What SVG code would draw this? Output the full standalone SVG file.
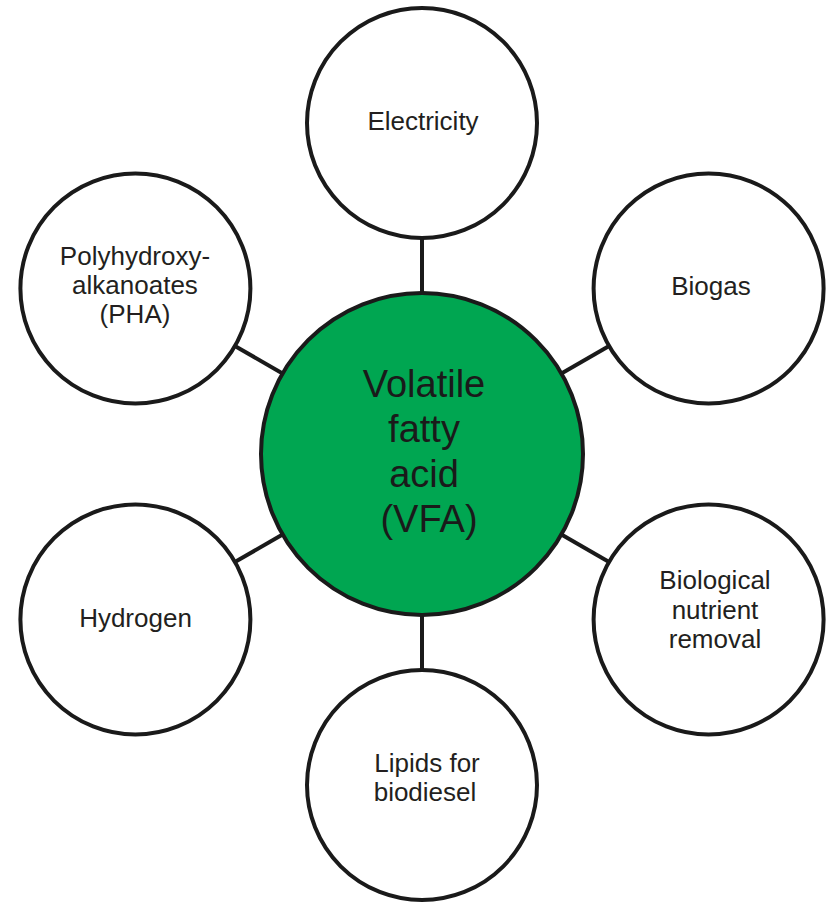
<svg xmlns="http://www.w3.org/2000/svg" width="826" height="902" viewBox="0 0 826 902">
<style>
.sat{fill:#ffffff;stroke:#1a1a1a;stroke-width:4}
.hub{fill:#00a651;stroke:#1a1a1a;stroke-width:4}
.lbl{font-family:"Liberation Sans",Arial,sans-serif;font-size:26px;fill:#231f20;text-anchor:middle}
.big{font-family:"Liberation Sans",Arial,sans-serif;font-size:38px;fill:#1a1a1a;text-anchor:middle}
.con line{stroke:#1a1a1a;stroke-width:4}
</style>
<rect width="826" height="902" fill="#ffffff"/>
<g id="connectors" class="con">
<line x1="422" y1="293" x2="422" y2="238"/>
<line x1="422" y1="615" x2="422" y2="670"/>
<line x1="561.4" y1="373.5" x2="609.1" y2="346"/>
<line x1="561.4" y1="534.5" x2="609.1" y2="562"/>
<line x1="282.6" y1="534.5" x2="234.9" y2="562"/>
<line x1="282.6" y1="373.5" x2="234.9" y2="346"/>
</g>
<g id="vfa">
<circle class="hub" cx="422" cy="454" r="161"/>
<text class="big"><tspan x="424" y="397">Volatile</tspan><tspan x="424" y="442">fatty</tspan><tspan x="424" y="487">acid</tspan><tspan x="429" y="532">(VFA)</tspan></text>
</g>
<g id="electricity">
<circle class="sat" cx="422" cy="123" r="115"/>
<text class="lbl" x="423" y="130">Electricity</text>
</g>
<g id="biogas">
<circle class="sat" cx="708.6" cy="288.5" r="115"/>
<text class="lbl" x="711" y="295">Biogas</text>
</g>
<g id="bnr">
<circle class="sat" cx="708.6" cy="619.5" r="115"/>
<text class="lbl"><tspan x="715" y="589">Biological</tspan><tspan x="715" y="619">nutrient</tspan><tspan x="715" y="648">removal</tspan></text>
</g>
<g id="lipids">
<circle class="sat" cx="422" cy="785" r="115"/>
<text class="lbl"><tspan x="427" y="772">Lipids for</tspan><tspan x="425" y="801">biodiesel</tspan></text>
</g>
<g id="hydrogen">
<circle class="sat" cx="135.4" cy="619.5" r="115"/>
<text class="lbl" x="135.5" y="627">Hydrogen</text>
</g>
<g id="pha">
<circle class="sat" cx="135.4" cy="288.5" r="115"/>
<text class="lbl"><tspan x="135" y="265">Polyhydroxy-</tspan><tspan x="135" y="294">alkanoates</tspan><tspan x="135" y="323">(PHA)</tspan></text>
</g>
</svg>
